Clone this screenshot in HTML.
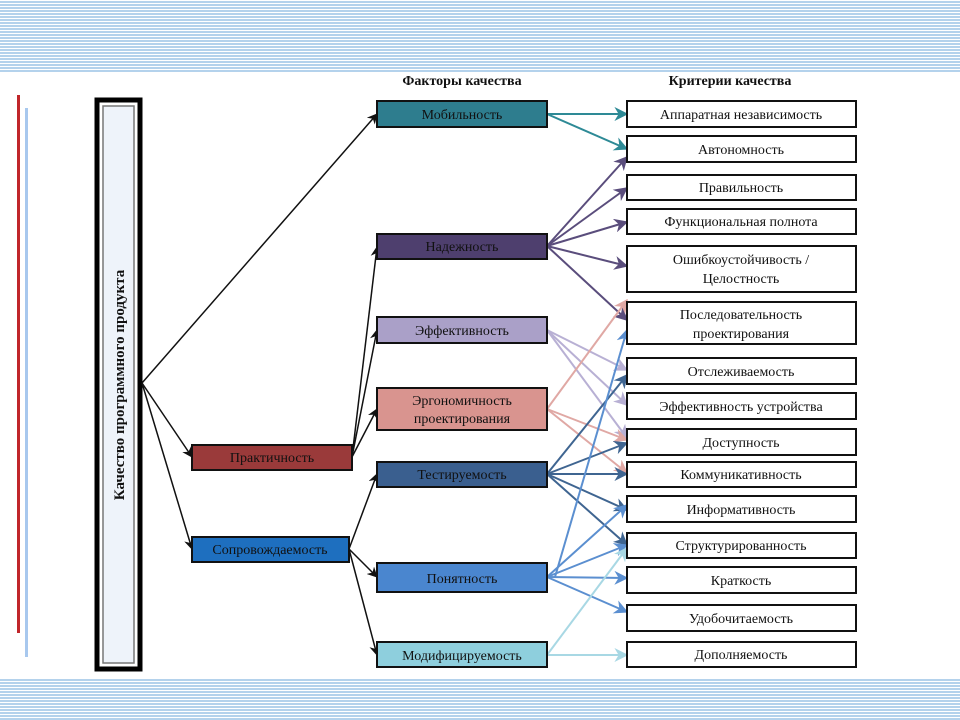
<!DOCTYPE html>
<html><head><meta charset="utf-8"><style>
html,body{margin:0;padding:0;width:960px;height:720px;overflow:hidden;background:#fff}
.stripe{position:absolute;left:0;width:960px;background:repeating-linear-gradient(to bottom,#fff 0,#fff 1px,#b4d2ec 1px,#b4d2ec 3px)}
svg{position:absolute;left:0;top:0}
text{font-family:"Liberation Serif",serif;font-size:14px;fill:#111}
</style></head><body>
<div class="stripe" style="top:0;height:72px"></div>
<div class="stripe" style="top:678px;height:42px"></div>
<svg width="960" height="720" viewBox="0 0 960 720">
<defs>
<marker id="a" viewBox="0 0 10 10" refX="9" refY="5" markerWidth="7" markerHeight="7" orient="auto-start-reverse"><path d="M0,0 L10,5 L0,10 L3,5z" fill="context-stroke"/></marker>
</defs>
<rect x="17" y="95" width="3" height="538" fill="#c0262a"/>
<rect x="25" y="108" width="3" height="549" fill="#a8c8ee"/>
<rect x="97" y="100" width="43" height="569" fill="#fff" stroke="#000" stroke-width="5"/>
<rect x="103" y="106" width="31" height="557" fill="#eef3fa" stroke="#777" stroke-width="1.5"/>
<text transform="translate(124,385) rotate(-90)" text-anchor="middle" font-weight="bold" style="font-size:15px">Качество программного продукта</text>
<text x="462" y="85" text-anchor="middle" font-weight="bold">Факторы качества</text>
<text x="730" y="85" text-anchor="middle" font-weight="bold">Критерии качества</text>
<g stroke="#111" stroke-width="1.5" fill="none" marker-end="url(#a)">
<line x1="142" y1="383" x2="377" y2="114"/>
<line x1="142" y1="383" x2="192" y2="457"/>
<line x1="142" y1="383" x2="192" y2="549"/>
<line x1="352" y1="457" x2="377" y2="247"/>
<line x1="352" y1="457" x2="377" y2="330"/>
<line x1="352" y1="457" x2="377" y2="409"/>
<line x1="349" y1="549" x2="377" y2="474"/>
<line x1="349" y1="549" x2="377" y2="577"/>
<line x1="349" y1="549" x2="377" y2="655"/>
</g>
<g fill="none" stroke-width="2" marker-end="url(#a)">
<g stroke="#2e8a96"><line x1="547" y1="114" x2="627" y2="114"/><line x1="547" y1="114" x2="627" y2="149"/></g>
<g stroke="#5a4d7c"><line x1="547" y1="246" x2="627" y2="157"/><line x1="547" y1="246" x2="627" y2="188"/><line x1="547" y1="246" x2="627" y2="222"/><line x1="547" y1="246" x2="627" y2="266"/><line x1="547" y1="246" x2="627" y2="320"/></g>
<g stroke="#b8b0d4"><line x1="547" y1="330" x2="627" y2="370"/><line x1="547" y1="330" x2="627" y2="405"/><line x1="547" y1="330" x2="627" y2="438"/></g>
<g stroke="#e0a8a4"><line x1="547" y1="409" x2="627" y2="300"/><line x1="547" y1="409" x2="627" y2="440"/><line x1="547" y1="409" x2="627" y2="473"/></g>
<g stroke="#3f6591"><line x1="547" y1="474" x2="627" y2="375"/><line x1="547" y1="474" x2="627" y2="443"/><line x1="547" y1="474" x2="627" y2="474"/><line x1="547" y1="474" x2="627" y2="510"/><line x1="547" y1="474" x2="627" y2="545"/></g>
<g stroke="#5b8fd0"><line x1="555" y1="577" x2="627" y2="330"/><line x1="547" y1="577" x2="627" y2="505"/><line x1="547" y1="577" x2="627" y2="545"/><line x1="547" y1="577" x2="627" y2="578"/><line x1="547" y1="577" x2="627" y2="612"/></g>
<g stroke="#a8d8e4"><line x1="547" y1="655" x2="627" y2="548"/><line x1="547" y1="655" x2="627" y2="655"/></g>
</g>
<g stroke="#111" stroke-width="2">
<rect x="377" y="101" width="170" height="26" fill="#2e7d8e"/>
<rect x="377" y="234" width="170" height="25" fill="#4e3f6e"/>
<rect x="377" y="317" width="170" height="26" fill="#aaa0c8"/>
<rect x="377" y="388" width="170" height="42" fill="#d9948f"/>
<rect x="377" y="462" width="170" height="25" fill="#3a5f8f"/>
<rect x="377" y="563" width="170" height="29" fill="#4a86cf"/>
<rect x="377" y="642" width="170" height="25" fill="#8ecfdd"/>
<rect x="192" y="445" width="160" height="25" fill="#9a3a3a"/>
<rect x="192" y="537" width="157" height="25" fill="#1e6fbf"/>
</g>
<g text-anchor="middle">
<text x="462" y="119">Мобильность</text>
<text x="462" y="251">Надежность</text>
<text x="462" y="335">Эффективность</text>
<text x="462" y="405">Эргономичность</text>
<text x="462" y="423">проектирования</text>
<text x="462" y="479">Тестируемость</text>
<text x="462" y="583">Понятность</text>
<text x="462" y="660">Модифицируемость</text>
<text x="272" y="462">Практичность</text>
<text x="270" y="554">Сопровождаемость</text>
</g>
<g fill="#fff" stroke="#111" stroke-width="2">
<rect x="627" y="101" width="229" height="26"/>
<rect x="627" y="136" width="229" height="26"/>
<rect x="627" y="175" width="229" height="25"/>
<rect x="627" y="209" width="229" height="25"/>
<rect x="627" y="246" width="229" height="46"/>
<rect x="627" y="302" width="229" height="42"/>
<rect x="627" y="358" width="229" height="26"/>
<rect x="627" y="393" width="229" height="26"/>
<rect x="627" y="429" width="229" height="26"/>
<rect x="627" y="462" width="229" height="25"/>
<rect x="627" y="496" width="229" height="26"/>
<rect x="627" y="533" width="229" height="25"/>
<rect x="627" y="567" width="229" height="26"/>
<rect x="627" y="605" width="229" height="26"/>
<rect x="627" y="642" width="229" height="25"/>
</g>
<g text-anchor="middle">
<text x="741" y="119">Аппаратная независимость</text>
<text x="741" y="154">Автономность</text>
<text x="741" y="192">Правильность</text>
<text x="741" y="226">Функциональная полнота</text>
<text x="741" y="264">Ошибкоустойчивость /</text>
<text x="741" y="283">Целостность</text>
<text x="741" y="319">Последовательность</text>
<text x="741" y="338">проектирования</text>
<text x="741" y="376">Отслеживаемость</text>
<text x="741" y="411">Эффективность устройства</text>
<text x="741" y="447">Доступность</text>
<text x="741" y="479">Коммуникативность</text>
<text x="741" y="514">Информативность</text>
<text x="741" y="550">Структурированность</text>
<text x="741" y="585">Краткость</text>
<text x="741" y="623">Удобочитаемость</text>
<text x="741" y="659">Дополняемость</text>
</g>
</svg>
</body></html>
